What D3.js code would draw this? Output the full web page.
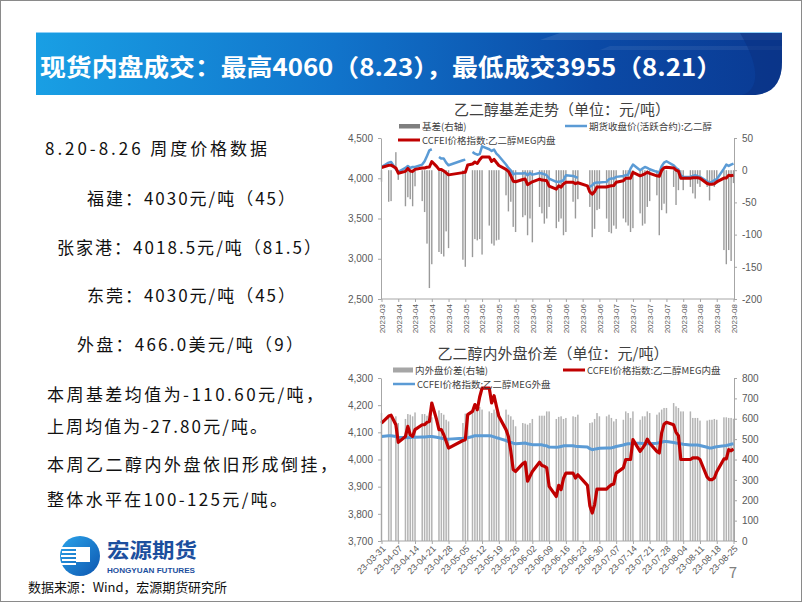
<!DOCTYPE html>
<html><head><meta charset="utf-8">
<script src="https://cdn.jsdelivr.net/npm/d3@7"></script>
<style>
body{margin:0;background:#fff;}
svg{display:block;font-family:"Noto Sans CJK SC","Noto Sans",sans-serif;}
</style></head><body>
<svg id="c" width="802" height="602"></svg>
<script>
// ---------- data ----------
const dates = ["03-31",
 "04-03","04-04","04-06","04-07","04-10","04-11","04-12","04-13","04-14","04-17","04-18","04-19","04-20","04-21","04-23","04-24","04-25","04-26","04-27","04-28",
 "05-04","05-05","05-06","05-08","05-09","05-10","05-11","05-12","05-15","05-16","05-17","05-18","05-19","05-22","05-23","05-24","05-25","05-26","05-29","05-30","05-31",
 "06-01","06-02","06-05","06-06","06-07","06-08","06-09","06-12","06-13","06-14","06-15","06-16","06-19","06-20","06-21","06-25","06-26","06-27","06-28","06-29","06-30",
 "07-03","07-04","07-05","07-06","07-07","07-10","07-11","07-12","07-13","07-14","07-17","07-18","07-19","07-20","07-21","07-24","07-25","07-26","07-27","07-28","07-31",
 "08-01","08-02","08-03","08-04","08-07","08-08","08-09","08-10","08-11","08-14","08-15","08-16","08-17","08-18","08-21","08-22","08-23","08-24","08-25"];
const tickDates = ["03-31","04-07","04-14","04-21","04-28","05-05","05-12","05-19","05-26","06-02","06-09","06-16","06-23","06-30","07-07","07-14","07-21","07-28","08-04","08-11","08-18","08-25"];

// 期货收盘价(活跃合约):乙二醇
const futuresClose = [4140,
 4194,4202,4112,4080,4128,4153,4128,4140,4140,4170,4210,4277,4347,4360,null,4264,4244,4244,4194,4161,
 4223,4231,null,4326,4306,4293,4300,4397,4360,4339,4355,4306,4277,4170,4128,4099,4050,4058,4058,4066,4037,
 4066,4045,4066,4058,4050,4037,3996,3955,3955,3963,3975,4037,4029,4017,4004,null,3893,3913,3942,3946,3946,
 3955,3988,3996,3996,4017,4029,4037,4045,4120,4170,4099,4120,4140,4128,4112,4079,4066,4149,4194,4211,4161,
 4128,4107,4037,4017,4017,4029,4037,4025,4017,3963,3946,3955,3975,3988,4120,4170,4153,4170,4182];
// CCFEI价格指数:乙二醇MEG内盘
const ccfeiInner = [4134,
 4160,4163,4128,4063,4085,4122,4091,4085,4110,4128,4128,4137,4140,4208,4147,4110,4110,4091,4067,4042,
 4070,4073,4165,4177,4202,4183,4230,4263,4263,4208,4235,4196,4159,4110,4085,4030,3963,3956,3985,3990,3920,
 3938,3956,3990,3978,3975,3969,3901,3864,3905,3889,3930,3950,3950,3932,3944,3905,3830,3803,3834,3891,3891,
 3891,3900,3907,3910,3950,3969,4000,4000,4000,4073,4030,4042,4055,4075,4060,4030,4024,4098,4130,4137,4128,
 4100,4088,4000,4000,4000,4006,4006,4006,4000,3935,3926,3926,3932,3955,4002,4002,4036,4032,4039];
// 基差(右轴)
const basis = [-18,
 -49,-48,28,-15,-56,-42,-45,-56,-25,-48,-65,-114,-183,-146,null,-127,-130,-134,-95,-121,
 -139,-150,null,-135,-107,-109,-107,-131,-86,-114,-117,-109,-108,-39,-64,-49,-88,-96,-73,-70,-101,
 -75,-112,-57,-67,-83,-75,-57,-90,-80,-75,-101,-96,-49,-75,-45,null,-57,-104,-91,-62,-60,
 -75,-96,-98,-86,-91,-75,-81,-86,-96,-90,-67,-86,-83,-57,-48,-39,-101,-62,-52,-67,-26,
 -54,-31,-10,-31,-26,-36,-44,-21,-26,-26,-47,-21,-26,-21,-124,-146,-124,-141,-20];
// CCFEI价格指数:乙二醇MEG外盘 (右轴)
const ccfeiOuter = [513,
 517,517,513,509,508,507,508,509,509,511,511,512,513,513,509,507,504,501,500,500,
 504,505,507,513,517,516,517,517,517,515,511,507,504,493,488,484,480,477,480,481,477,
 475,473,473,472,469,467,461,460,461,464,467,468,467,465,464,461,453,448,451,453,455,
 456,456,457,460,464,471,475,477,477,480,480,479,477,477,477,480,483,485,488,488,483,
 481,480,477,475,471,471,471,471,469,460,456,457,460,463,467,469,472,475,477];
// 内外盘价差(右轴)
const spread = [628,
 612,612,612,579,599,623,620,612,631,623,623,615,631,607,null,641,628,620,595,587,
 579,625,620,628,645,636,658,645,636,628,645,636,631,645,620,612,595,563,579,576,571,
 579,599,615,615,615,636,636,599,609,612,599,604,612,609,620,null,579,582,599,628,612,
 612,620,604,587,599,595,636,628,604,636,595,612,612,636,628,620,631,645,653,653,677,
 661,653,636,636,636,604,604,604,591,591,595,595,599,595,607,607,604,604,600];

const topLeftTicks = [2500,3000,3500,4000,4500];
const topRightTicks = [-200,-150,-100,-50,0,50];
const botLeftTicks = [3700,3800,3900,4000,4100,4200,4300];
const botRightTicks = [0,100,200,300,400,500,600,700,800];

const textLines = [
 {t:"8.20-8.26 周度价格数据", x:45, y:155, w:222},
 {t:"福建：4030元/吨（45）", x:87, y:205, w:208},
 {t:"张家港：4018.5元/吨（81.5）", x:57, y:254, w:264},
 {t:"东莞：4030元/吨（45）", x:87, y:302, w:208},
 {t:"外盘：466.0美元/吨（9）", x:77, y:351, w:226},
 {t:"本周基差均值为-110.60元/吨，", x:47, y:401, w:276},
 {t:"上周均值为-27.80元/吨。", x:47, y:433, w:220},
 {t:"本周乙二醇内外盘依旧形成倒挂，", x:47, y:471, w:290},
 {t:"整体水平在100-125元/吨。", x:47, y:506, w:240}
];

// ---------- drawing ----------
const P = d3.timeParse("%Y-%m-%d");
const D = dates.map(s => P("2023-" + s));
const T = tickDates.map(s => P("2023-" + s));
const svg = d3.select("#c");
const defs = svg.append("defs");

// frame
svg.append("rect").attr("x",0.5).attr("y",0.5).attr("width",801).attr("height",601)
  .attr("fill","none").attr("stroke","#8a8a8a");

// banner
const bg = defs.append("linearGradient").attr("id","bannerG").attr("x1","0").attr("x2","1").attr("y1","0").attr("y2","0");
bg.append("stop").attr("offset","0%").attr("stop-color","#199fe4");
bg.append("stop").attr("offset","40%").attr("stop-color","#1174cb");
bg.append("stop").attr("offset","75%").attr("stop-color","#0b4aa6");
bg.append("stop").attr("offset","100%").attr("stop-color","#0a3a93");
svg.append("path").attr("d","M36,32 H782 V62 C782,82 773,95 752,95 H36 Z").attr("fill","url(#bannerG)");
svg.append("path").attr("d","M560,33 H782 V40 H540 Z").attr("fill","#ffffff").attr("opacity",0.10);
svg.append("path").attr("d","M610,46 H782 V50 H600 Z").attr("fill","#ffffff").attr("opacity",0.07);
svg.append("path").attr("d","M740,33 H782 V62 C782,82 773,95 752,95 H742 C758,90 762,70 740,33 Z").attr("fill","#0a2f80").attr("opacity",0.5);
svg.append("line").attr("x1",36).attr("x2",782).attr("y1",32.5).attr("y2",32.5).attr("stroke","#8fd0f7").attr("stroke-width",1);
svg.append("text").attr("x",40).attr("y",76).attr("fill","#fff").attr("font-size",24).attr("font-weight","bold")
  .attr("textLength",682).attr("lengthAdjust","spacingAndGlyphs")
  .text("现货内盘成交：最高4060（8.23），最低成交3955（8.21）");

// left text
svg.append("g").selectAll("text").data(textLines).join("text")
  .attr("x",d=>d.x).attr("y",d=>d.y).attr("font-size",17).attr("fill","#111")
  .attr("textLength",d=>d.w).attr("lengthAdjust","spacing").text(d=>d.t);

function styleAxis(g){
  g.select(".domain").attr("stroke","#a6a6a6");
  g.selectAll(".tick line").attr("stroke","#a6a6a6");
  g.selectAll(".tick text").attr("fill","#595959");
}
function series(vals){ return vals.map((v,i)=>({d:D[i],v})); }

// ---------- top chart ----------
{
  const x = d3.scaleTime().domain([D[0], D[D.length-1]]).range([381.5, 733.5]);
  const yL = d3.scaleLinear().domain([2500,4500]).range([299,138]);
  const yR = d3.scaleLinear().domain([-200,50]).range([299,138]);
  const g = svg.append("g");
  g.append("text").attr("x",562).attr("y",115).attr("text-anchor","middle").attr("font-size",15).attr("fill","#404040")
    .text("乙二醇基差走势（单位：元/吨）");
  g.append("g").selectAll("rect").data(series(basis).filter(o=>o.v!=null)).join("rect")
    .attr("x",o=>x(o.d)-0.7).attr("width",1.4)
    .attr("y",o=>Math.min(yR(0),yR(o.v))).attr("height",o=>Math.abs(yR(o.v)-yR(0)))
    .attr("fill","#9a9a9a");
  const line = yy => d3.line().defined(o=>o.v!=null).x(o=>x(o.d)).y(o=>yy(o.v));
  g.append("path").datum(series(futuresClose)).attr("d",line(yL)).attr("fill","none")
    .attr("stroke","#5b9bd5").attr("stroke-width",2.5).attr("stroke-linejoin","round");
  g.append("path").datum(series(ccfeiInner)).attr("d",line(yL)).attr("fill","none")
    .attr("stroke","#c00000").attr("stroke-width",3).attr("stroke-linejoin","round");
  const ax = g.append("g").attr("transform","translate(381,0)")
    .call(d3.axisLeft(yL).tickValues(topLeftTicks).tickSize(3).tickSizeOuter(0).tickPadding(5).tickFormat(d3.format(",")));
  ax.selectAll("text").attr("font-size",10);
  styleAxis(ax);
  const ar = g.append("g").attr("transform","translate(734,0)")
    .call(d3.axisRight(yR).tickValues(topRightTicks).tickSize(3).tickSizeOuter(0).tickPadding(5).tickFormat(d=>String(d)));
  ar.selectAll("text").attr("font-size",10);
  styleAxis(ar);
  const ab = g.append("g").attr("transform","translate(0,299)")
    .call(d3.axisBottom(x).tickValues(T).tickSize(3).tickSizeOuter(0).tickFormat(d3.timeFormat("%Y-%m")));
  ab.select(".domain").attr("d","M381,0H734");
  ab.selectAll(".tick text").attr("font-size",8).attr("transform","rotate(-90)")
    .attr("x",-5).attr("y",0).attr("dy","0.35em").attr("text-anchor","end");
  styleAxis(ab);
  // legend
  const lg = g.append("g").attr("font-size",9.5).attr("fill","#404040");
  lg.append("rect").attr("x",399).attr("y",124).attr("width",21).attr("height",4.5).attr("fill","#7f7f7f");
  lg.append("text").attr("x",422).attr("y",129.5).text("基差(右轴)");
  lg.append("line").attr("x1",565).attr("x2",587).attr("y1",126).attr("y2",126).attr("stroke","#5b9bd5").attr("stroke-width",2.5);
  lg.append("text").attr("x",589).attr("y",129.5).text("期货收盘价(活跃合约):乙二醇");
  lg.append("line").attr("x1",398).attr("x2",420).attr("y1",140).attr("y2",140).attr("stroke","#c00000").attr("stroke-width",3);
  lg.append("text").attr("x",422).attr("y",143.5).text("CCFEI价格指数:乙二醇MEG内盘");
}

// ---------- bottom chart ----------
{
  const x = d3.scaleTime().domain([D[0], D[D.length-1]]).range([381.5, 733.5]);
  const yL = d3.scaleLinear().domain([3700,4300]).range([541,378]);
  const yR = d3.scaleLinear().domain([0,800]).range([541,378]);
  const g = svg.append("g");
  g.append("text").attr("x",553).attr("y",359).attr("text-anchor","middle").attr("font-size",15).attr("fill","#404040")
    .text("乙二醇内外盘价差（单位：元/吨）");
  g.append("g").selectAll("rect").data(series(spread).filter(o=>o.v!=null)).join("rect")
    .attr("x",o=>x(o.d)-0.75).attr("width",1.5)
    .attr("y",o=>yR(o.v)).attr("height",o=>yR(0)-yR(o.v))
    .attr("fill","#b4b4b4");
  const line = yy => d3.line().defined(o=>o.v!=null).x(o=>x(o.d)).y(o=>yy(o.v));
  g.append("path").datum(series(ccfeiOuter)).attr("d",line(yR)).attr("fill","none")
    .attr("stroke","#5b9bd5").attr("stroke-width",3).attr("stroke-linejoin","round");
  g.append("path").datum(series(ccfeiInner)).attr("d",line(yL)).attr("fill","none")
    .attr("stroke","#c00000").attr("stroke-width",3.2).attr("stroke-linejoin","round");
  const ax = g.append("g").attr("transform","translate(381,0)")
    .call(d3.axisLeft(yL).tickValues(botLeftTicks).tickSize(3).tickSizeOuter(0).tickPadding(5).tickFormat(d3.format(",")));
  ax.selectAll("text").attr("font-size",10);
  styleAxis(ax);
  const ar = g.append("g").attr("transform","translate(734,0)")
    .call(d3.axisRight(yR).tickValues(botRightTicks).tickSize(3).tickSizeOuter(0).tickPadding(5));
  ar.selectAll("text").attr("font-size",10);
  styleAxis(ar);
  const ab = g.append("g").attr("transform","translate(0,541)")
    .call(d3.axisBottom(x).tickValues(T).tickSize(3).tickSizeOuter(0).tickFormat(d3.timeFormat("%y-%m-%d")));
  ab.select(".domain").attr("d","M381,0H734");
  ab.selectAll(".tick text").attr("font-size",9).attr("transform","translate(2,6) rotate(-45)")
    .attr("x",0).attr("y",0).attr("dy","0.35em").attr("text-anchor","end");
  styleAxis(ab);
  const lg = g.append("g").attr("font-size",9.5).attr("fill","#404040");
  lg.append("rect").attr("x",393).attr("y",367.5).attr("width",20).attr("height",5).attr("fill","#a6a6a6");
  lg.append("text").attr("x",415).attr("y",373.5).text("内外盘价差(右轴)");
  lg.append("line").attr("x1",563).attr("x2",585).attr("y1",370).attr("y2",370).attr("stroke","#c00000").attr("stroke-width",3);
  lg.append("text").attr("x",587).attr("y",373.5).text("CCFEI价格指数:乙二醇MEG内盘");
  lg.append("line").attr("x1",393).attr("x2",415).attr("y1",384).attr("y2",384).attr("stroke","#5b9bd5").attr("stroke-width",2.5);
  lg.append("text").attr("x",417).attr("y",387.5).text("CCFEI价格指数:乙二醇MEG外盘");
}

// page number
svg.append("text").attr("x",733).attr("y",578).attr("text-anchor","middle").attr("font-size",15).attr("fill","#808080").text("7");

// logo
{
  const lg = defs.append("linearGradient").attr("id","logoG").attr("x1","0").attr("x2","1").attr("y1","0").attr("y2","1");
  lg.append("stop").attr("offset","0%").attr("stop-color","#2ba4ea");
  lg.append("stop").attr("offset","100%").attr("stop-color","#0d56b0");
  const g = svg.append("g");
  g.append("circle").attr("cx",80).attr("cy",556).attr("r",20).attr("fill","url(#logoG)");
  [548,552,556,560,564].forEach((yy,i)=>{
    g.append("rect").attr("x",61+i%2).attr("y",yy-1).attr("width",15).attr("height",2).attr("fill","#fff");
  });
  g.append("rect").attr("x",76).attr("y",547).attr("width",14).attr("height",15).attr("fill","#fff");
  g.append("text").attr("x",107).attr("y",557.5).attr("font-size",20).attr("font-weight","bold").attr("fill","#1c4f9e")
    .attr("textLength",90).attr("lengthAdjust","spacingAndGlyphs").text("宏源期货");
  g.append("text").attr("x",107).attr("y",572.5).attr("font-size",7.5).attr("font-weight","bold").attr("fill","#1c4f9e")
    .attr("font-family","Liberation Sans, Arial, sans-serif")
    .attr("textLength",88).attr("lengthAdjust","spacingAndGlyphs").text("HONGYUAN FUTURES");
}
svg.append("text").attr("x",28).attr("y",592).attr("font-size",13).attr("fill","#111")
  .attr("textLength",199).attr("lengthAdjust","spacing").text("数据来源：Wind，宏源期货研究所");
</script></body></html>
